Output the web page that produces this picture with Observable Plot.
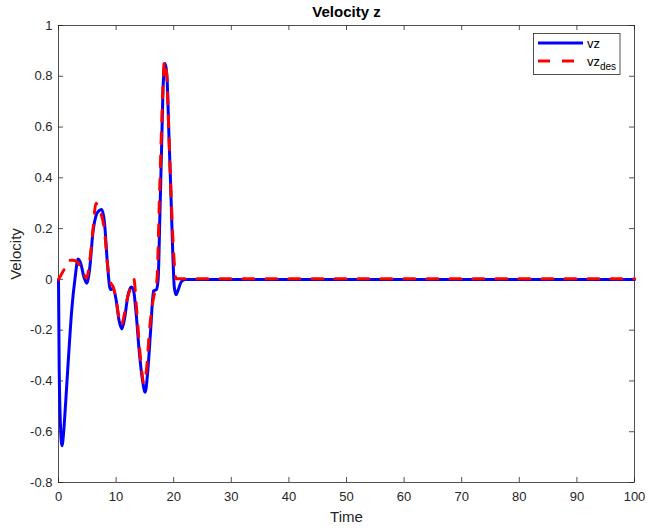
<!DOCTYPE html>
<html>
<head>
<meta charset="utf-8">
<script src="https://cdn.jsdelivr.net/npm/d3@7"></script>
<script src="https://cdn.jsdelivr.net/npm/@observablehq/plot@0.6"></script>
<style>
  html, body { margin: 0; padding: 0; background: #ffffff; }
  #chart { width: 648px; height: 531px; }
</style>
</head>
<body>
<div id="chart"></div>
<script>
// Measured vertical velocity (vz) over time
const vzTime = [0, 0.12, 0.35, 0.6, 0.9, 1.2, 1.7, 2.3, 2.9, 3.4, 3.9, 4.4, 4.9, 5.4, 6.0, 6.5, 7.0, 7.5, 8.0, 8.5, 9.0, 9.5, 10.0, 10.5, 11.0, 11.5, 12.0, 12.6, 13.0, 13.5, 14.0, 14.6, 15.05, 15.5, 16.0, 16.5, 17.0, 17.3, 17.6, 17.9, 18.2, 18.5, 18.8, 19.2, 19.5, 19.8, 20.1, 20.4, 20.8, 21.3, 22.0, 30, 40, 50, 60, 70, 80, 90, 100];
const vzValue = [0, -0.35, -0.58, -0.655, -0.6, -0.5, -0.32, -0.12, 0.01, 0.08, 0.06, 0.01, -0.015, 0.04, 0.19, 0.25, 0.27, 0.275, 0.22, 0.06, -0.04, -0.035, -0.08, -0.16, -0.195, -0.15, -0.07, -0.03, -0.04, -0.14, -0.28, -0.4, -0.445, -0.36, -0.2, -0.045, -0.04, 0.0, 0.25, 0.52, 0.78, 0.85, 0.81, 0.55, 0.35, 0.13, -0.03, -0.06, -0.04, -0.01, 0, 0, 0, 0, 0, 0, 0, 0, 0];

// Desired vertical velocity (vz_des) over time
const vzDesTime = [0, 1.0, 1.8, 2.5, 3.2, 3.8, 4.4, 4.9, 5.4, 6.0, 6.5, 7.0, 7.5, 8.0, 8.5, 9.0, 9.5, 10.0, 10.5, 10.9, 11.5, 12.0, 12.6, 13.1, 13.5, 14.0, 14.5, 14.8, 15.3, 15.8, 16.3, 16.7, 17.1, 17.5, 17.9, 18.4, 18.8, 19.2, 19.6, 20.0, 20.4, 30, 40, 50, 60, 70, 80, 90, 100];
const vzDesValue = [0, 0.04, 0.075, 0.075, 0.07, 0.05, 0.02, 0.005, 0.07, 0.2, 0.3, 0.27, 0.25, 0.19, 0.06, -0.01, -0.03, -0.08, -0.15, -0.18, -0.13, -0.07, -0.03, 0.0, -0.1, -0.25, -0.37, -0.41, -0.35, -0.2, -0.1, -0.05, 0.0, 0.3, 0.6, 0.86, 0.8, 0.55, 0.3, 0.1, 0.003, 0.003, 0.003, 0.003, 0.003, 0.003, 0.003, 0.003, 0.003];

const xTicks = [0, 10, 20, 30, 40, 50, 60, 70, 80, 90, 100];
const yTicks = [-0.8, -0.6, -0.4, -0.2, 0, 0.2, 0.4, 0.6, 0.8, 1];

const vzRows = vzTime.map((t, i) => ({t, v: vzValue[i]}));
const vzDesRows = vzDesTime.map((t, i) => ({t, v: vzDesValue[i]}));

const W = 648, H = 531;
const M = {top: 25, right: 14, bottom: 49, left: 58};
const plotW = W - M.left - M.right;
const plotH = H - M.top - M.bottom;
const axisColor = "#262626";
const font = "'Liberation Sans', Arial, Helvetica, sans-serif";

const chart = Plot.plot({
  width: W,
  height: H,
  marginTop: M.top,
  marginRight: M.right,
  marginBottom: M.bottom,
  marginLeft: M.left,
  style: {fontFamily: font, fontSize: "13px", color: axisColor, background: "#ffffff", overflow: "visible"},
  x: {domain: [0, 100], ticks: xTicks},
  y: {domain: [-0.8, 1], ticks: yTicks},
  marks: [
    // axes box and inward-pointing ticks sit beneath the data lines
    Plot.frame({stroke: axisColor, strokeWidth: 0.8}),
    Plot.ruleX(xTicks, {x: d => d, insetTop: plotH - 5, stroke: axisColor, strokeWidth: 0.8}),
    Plot.ruleX(xTicks, {x: d => d, insetBottom: plotH - 5, stroke: axisColor, strokeWidth: 0.8}),
    Plot.ruleY(yTicks, {y: d => d, insetRight: plotW - 5, stroke: axisColor, strokeWidth: 0.8}),
    Plot.ruleY(yTicks, {y: d => d, insetLeft: plotW - 5, stroke: axisColor, strokeWidth: 0.8}),
    Plot.axisX(xTicks, {tickSize: 0, tickPadding: 9, label: null, tickFormat: d => String(d), fontSize: 13}),
    Plot.axisY(yTicks, {tickSize: 0, tickPadding: 6, label: null, tickFormat: d => String(d), fontSize: 13}),
    Plot.line(vzRows, {x: "t", y: "v", stroke: "#0000ff", strokeWidth: 3, curve: "monotone-x"}),
    Plot.line(vzDesRows, {x: "t", y: "v", stroke: "#ff0000", strokeWidth: 3, strokeDasharray: "11,12", curve: "monotone-x"}),
    Plot.text(["Time"], {frameAnchor: "bottom", lineAnchor: "middle", dy: 35, fontSize: 15, fill: axisColor}),
    Plot.text(["Velocity"], {frameAnchor: "left", textAnchor: "middle", lineAnchor: "middle", dx: -42, rotate: -90, fontSize: 15, fill: axisColor}),
    Plot.text(["Velocity z"], {frameAnchor: "top", lineAnchor: "middle", dy: -13, fontSize: 15, fontWeight: "bold", fill: "#000000"})
  ]
});

// Legend box in the upper-right corner of the axes
const svg = d3.select(chart);
const lg = svg.append("g").attr("font-family", font).attr("text-anchor", "start");
lg.append("rect")
  .attr("x", 533.5).attr("y", 33.5).attr("width", 86.5).attr("height", 41)
  .attr("fill", "#ffffff").attr("stroke", axisColor).attr("stroke-width", 0.8);
lg.append("line")
  .attr("x1", 538).attr("x2", 583).attr("y1", 43).attr("y2", 43)
  .attr("stroke", "#0000ff").attr("stroke-width", 3);
lg.append("text")
  .attr("x", 587).attr("y", 47.5).attr("font-size", 13).attr("fill", "#000000")
  .text("vz");
lg.append("line")
  .attr("x1", 538).attr("x2", 583).attr("y1", 61).attr("y2", 61)
  .attr("stroke", "#ff0000").attr("stroke-width", 3).attr("stroke-dasharray", "12,12");
const t2 = lg.append("text")
  .attr("x", 587).attr("y", 65.5).attr("font-size", 13).attr("fill", "#000000");
t2.append("tspan").text("vz");
t2.append("tspan").attr("font-size", 10).attr("dy", 4).text("des");

document.getElementById("chart").appendChild(chart);
</script>
</body>
</html>
